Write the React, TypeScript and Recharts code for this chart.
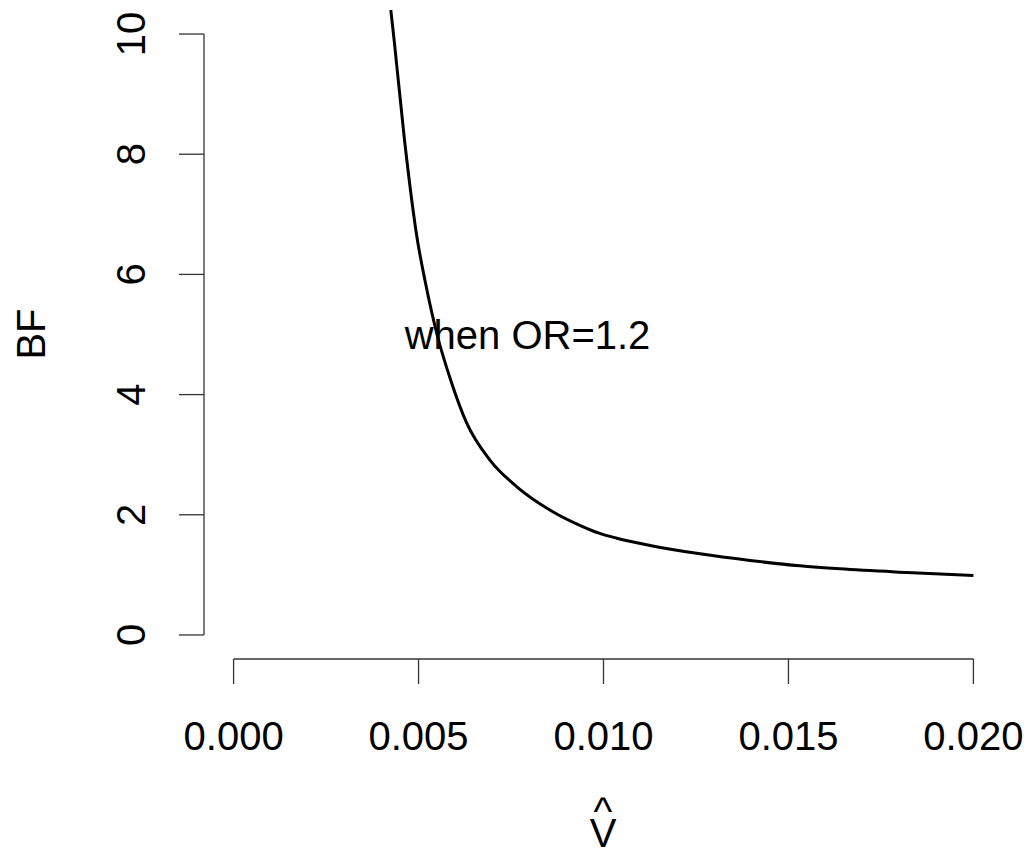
import { LineChart, Line, XAxis, YAxis, ReferenceLine, ReferenceDot } from "recharts";

// values
const vHat = [
    0.00425, 0.00434, 0.00462, 0.00497, 0.00517, 0.0055, 0.00587, 0.0063, 0.00693,
    0.00765, 0.00855, 0.00945, 0.0099, 0.01036, 0.01126, 0.01261, 0.01396, 0.01531,
    0.01639, 0.0182, 0.02,
];
const bf = [
    10.4, 9.9, 8.24, 6.57, 5.91, 5.0, 4.24, 3.53, 2.91,
    2.47, 2.08, 1.8, 1.69, 1.61, 1.49, 1.35, 1.24, 1.15,
    1.1, 1.04, 0.99,
];
const xTicks = [0, 0.005, 0.01, 0.015, 0.02];
const yTicks = [0, 2, 4, 6, 8, 10];
const annotation = "when OR=1.2";

const data = vHat.map((v, i) => ({ v, bf: bf[i] }));

const FONT = "'Liberation Sans', Arial, sans-serif";
const AXIS = "#333";

const XTick = ({ x, y, payload }: any) => (
    <text x={x} y={y + 66} textAnchor="middle" fontSize={40} fontFamily={FONT} fill="#000">
        {payload.value.toFixed(3)}
    </text>
);

const YTick = ({ x, y, payload }: any) => (
    <text
        x={x - 34}
        y={y}
        transform={`rotate(-90, ${x - 34}, ${y})`}
        textAnchor="middle"
        fontSize={40}
        fontFamily={FONT}
        fill="#000"
    >
        {payload.value}
    </text>
);

export default function App() {
    return (
        <div style={{ position: "absolute", left: 0, top: 0, background: "#fff" }}>
            <LineChart
                width={1029}
                height={852}
                data={data}
                margin={{ top: 10, right: 26, bottom: 93, left: 104 }}
            >
                <XAxis
                    dataKey="v"
                    type="number"
                    domain={[-0.0008, 0.0208]}
                    ticks={xTicks}
                    allowDataOverflow
                    height={100}
                    axisLine={false}
                    tickSize={25}
                    tickMargin={0}
                    tickLine={{ stroke: AXIS, strokeWidth: 1.3 }}
                    tick={<XTick />}
                    interval={0}
                />
                <YAxis
                    dataKey="bf"
                    type="number"
                    domain={[-0.4, 10.4]}
                    ticks={yTicks}
                    allowDataOverflow
                    width={100}
                    axisLine={false}
                    tickSize={25}
                    tickMargin={0}
                    tickLine={{ stroke: AXIS, strokeWidth: 1.3 }}
                    tick={<YTick />}
                    interval={0}
                />
                <ReferenceLine
                    segment={[{ x: 0, y: -0.4 }, { x: 0.02, y: -0.4 }]}
                    stroke={AXIS}
                    strokeWidth={1.3}
                    ifOverflow="visible"
                />
                <ReferenceLine
                    segment={[{ x: -0.0008, y: 0 }, { x: -0.0008, y: 10 }]}
                    stroke={AXIS}
                    strokeWidth={1.3}
                    ifOverflow="visible"
                />
                <Line
                    dataKey="bf"
                    type="monotone"
                    stroke="#000"
                    strokeWidth={3}
                    dot={false}
                    isAnimationActive={false}
                />
                <ReferenceDot
                    x={0.008}
                    y={5}
                    r={0}
                    fill="none"
                    stroke="none"
                    ifOverflow="visible"
                    label={{
                        content: ({ viewBox }: any) => (
                            <text
                                x={viewBox.x + viewBox.width / 2 - 2}
                                y={viewBox.y + viewBox.height / 2 + 14}
                                textAnchor="middle"
                                fontSize={40}
                                fontFamily={FONT}
                                fill="#000"
                            >
                                {annotation}
                            </text>
                        ),
                    }}
                />
            </LineChart>
            {/* axis titles */}
            <svg
                width={1029}
                height={852}
                style={{ position: "absolute", left: 0, top: 0, pointerEvents: "none" }}
            >
                <text
                    x={45}
                    y={334}
                    transform="rotate(-90, 45, 334)"
                    textAnchor="middle"
                    fontSize={40}
                    fontFamily={FONT}
                    fill="#000"
                >
                    BF
                </text>
                <text x={603} y={825} textAnchor="middle" fontSize={40} fontFamily={FONT} fill="#000">
                    ^
                </text>
                <text x={603} y={847} textAnchor="middle" fontSize={40} fontFamily={FONT} fill="#000">
                    V
                </text>
            </svg>
        </div>
    );
}
